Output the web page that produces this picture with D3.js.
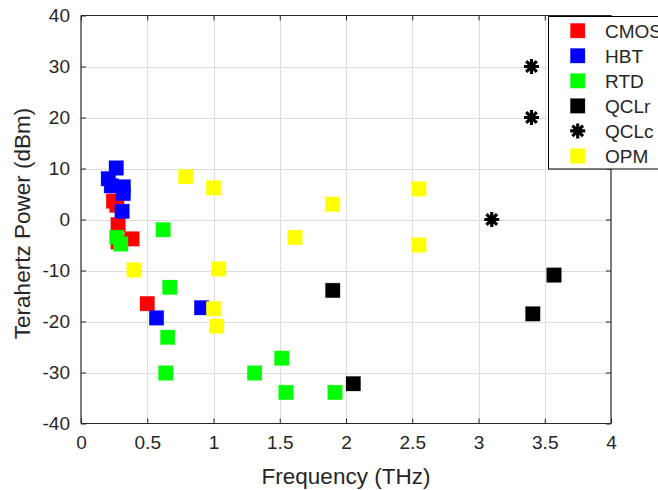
<!DOCTYPE html>
<html>
<head>
<meta charset="utf-8">
<script src="https://cdn.jsdelivr.net/npm/d3@7/dist/d3.min.js"></script>
<style>
  html, body { margin: 0; padding: 0; background: #fff; }
  svg { display: block; font-family: "Liberation Sans", Arial, Helvetica, sans-serif; }
</style>
</head>
<body>
<svg id="chart" width="658" height="490"></svg>
<script>
// ---- data (frequency THz, power dBm) ----
const seriesNames = ["CMOS", "HBT", "RTD", "QCLr", "QCLc", "OPM"];
const seriesColors = ["#ff0000", "#0000ff", "#00ff00", "#000000", "#000000", "#ffff00"];
const seriesShapes = ["square", "square", "square", "square", "asterisk", "square"];

const cmosFreq  = [0.245, 0.27, 0.28, 0.28, 0.385, 0.50];
const cmosPower = [3.6, 2.8, -1.0, -4.4, -3.8, -16.5];

const hbtFreq  = [0.266, 0.206, 0.229, 0.319, 0.319, 0.31, 0.57, 0.91];
const hbtPower = [10.1, 8.0, 6.6, 6.4, 5.1, 1.6, -19.3, -17.3];

const rtdFreq  = [0.27, 0.30, 0.62, 0.67, 0.654, 0.64, 1.31, 1.515, 1.547, 1.917];
const rtdPower = [-3.5, -4.8, -2.0, -13.3, -23.1, -30.1, -30.1, -27.2, -33.9, -33.9];

const qclrFreq  = [1.90, 2.055, 3.57, 3.41];
const qclrPower = [-13.9, -32.2, -10.9, -18.5];

const qclcFreq  = [3.40, 3.40, 3.10];
const qclcPower = [30, 20, 0];

const opmFreq  = [0.79, 1.0, 1.90, 1.615, 0.40, 1.04, 1.0, 1.024, 2.55, 2.55];
const opmPower = [8.4, 6.2, 3.0, -3.5, -9.9, -9.7, -17.5, -20.9, 6.0, -5.0];

const xTicks = [0, 0.5, 1, 1.5, 2, 2.5, 3, 3.5, 4];
const yTicks = [-40, -30, -20, -10, 0, 10, 20, 30, 40];
const xLabel = "Frequency (THz)";
const yLabel = "Terahertz Power (dBm)";

const allFreq  = [cmosFreq, hbtFreq, rtdFreq, qclrFreq, qclcFreq, opmFreq];
const allPower = [cmosPower, hbtPower, rtdPower, qclrPower, qclcPower, opmPower];

// ---- layout ----
const svg = d3.select("#chart");
const pLeft = 81, pRight = 611, pTop = 15.5, pBottom = 423.5;
const x = d3.scaleLinear().domain([0, 4]).range([pLeft, pRight]);
const y = d3.scaleLinear().domain([-40, 40]).range([pBottom, pTop]);
const axisColor = "#262626";
const gridColor = "#dcdcdc";
const mSize = 14.5;

// grid
const grid = svg.append("g");
grid.selectAll("line.gx").data(xTicks.slice(1, -1)).enter().append("line")
  .attr("x1", d => Math.round(x(d)) + 0.5).attr("x2", d => Math.round(x(d)) + 0.5)
  .attr("y1", pTop).attr("y2", pBottom)
  .attr("stroke", gridColor).attr("stroke-width", 1);
grid.selectAll("line.gy").data(yTicks.slice(1, -1)).enter().append("line")
  .attr("y1", d => Math.round(y(d)) + 0.5).attr("y2", d => Math.round(y(d)) + 0.5)
  .attr("x1", pLeft).attr("x2", pRight)
  .attr("stroke", gridColor).attr("stroke-width", 1);

const fmt = d => String(d);
const xAxisB = d3.axisBottom(x).tickValues(xTicks).tickSize(-5).tickPadding(12).tickFormat(fmt);
const xAxisT = d3.axisTop(x).tickValues(xTicks).tickSize(-5).tickFormat("");
const yAxisL = d3.axisLeft(y).tickValues(yTicks).tickSize(-5).tickPadding(11).tickFormat(fmt);
const yAxisR = d3.axisRight(y).tickValues(yTicks).tickSize(-5).tickFormat("");

function styleAxis(g) {
  g.select(".domain").attr("stroke", axisColor).attr("stroke-width", 1.2);
  g.selectAll(".tick line").attr("stroke", axisColor).attr("stroke-width", 1);
  g.selectAll(".tick text").attr("fill", axisColor)
    .style("font-size", "19px").style("font-family", '"Liberation Sans", Arial, sans-serif');
}

const markersLayer = svg.append("g");

svg.append("g").attr("transform", `translate(0,${pBottom})`).call(xAxisB).call(styleAxis)
  .call(g => g.select(".domain").attr("d", `M${pLeft},0H${pRight}`));
svg.append("g").attr("transform", `translate(0,${pTop})`).call(xAxisT).call(styleAxis)
  .call(g => g.select(".domain").attr("d", `M${pLeft},0H${pRight}`));
svg.append("g").attr("transform", `translate(${pLeft},0)`).call(yAxisL).call(styleAxis)
  .call(g => g.select(".domain").attr("d", `M0,${pTop}V${pBottom}`));
svg.append("g").attr("transform", `translate(${pRight},0)`).call(yAxisR).call(styleAxis)
  .call(g => g.select(".domain").attr("d", `M0,${pTop}V${pBottom}`));

function drawMarker(g, shape, color, cx, cy) {
  if (shape === "square") {
    g.append("rect")
      .attr("x", cx - mSize / 2).attr("y", cy - mSize / 2)
      .attr("width", mSize).attr("height", mSize)
      .attr("fill", color).attr("stroke", color).attr("stroke-width", 0.5).attr("stroke-opacity", 0.6);
  } else {
    const r = 7.5, d = r * Math.SQRT1_2;
    const p = `M${cx - r},${cy}L${cx + r},${cy}M${cx},${cy - r}L${cx},${cy + r}` +
              `M${cx - d},${cy - d}L${cx + d},${cy + d}M${cx - d},${cy + d}L${cx + d},${cy - d}`;
    g.append("path").attr("d", p).attr("stroke", color).attr("stroke-width", 3.2)
      .attr("stroke-linecap", "butt").attr("fill", "none");
    g.append("circle").attr("cx", cx).attr("cy", cy).attr("r", 3.2).attr("fill", color);
  }
}

seriesNames.forEach((name, i) => {
  const g = markersLayer.append("g");
  allFreq[i].forEach((f, j) => drawMarker(g, seriesShapes[i], seriesColors[i], x(f), y(allPower[i][j])));
});

svg.append("text").attr("x", (pLeft + pRight) / 2).attr("y", 483.5)
  .attr("text-anchor", "middle").attr("fill", axisColor)
  .style("font-size", "22.5px").text(xLabel);
svg.append("text").attr("transform", `translate(30,${(pTop + pBottom) / 2 + 4}) rotate(-90)`)
  .attr("text-anchor", "middle").attr("fill", axisColor)
  .style("font-size", "22.5px").text(yLabel);

const lg = svg.append("g");
lg.append("rect").attr("x", 548.5).attr("y", 16.5).attr("width", 130).attr("height", 152.5)
  .attr("fill", "#fff").attr("stroke", "#000").attr("stroke-width", 1);
const legY = d3.scalePoint().domain(seriesNames).range([30.7, 156]);
seriesNames.forEach((name, i) => {
  drawMarker(lg, seriesShapes[i], seriesColors[i], 577.7, legY(name));
  lg.append("text").attr("x", 605).attr("y", legY(name)).attr("dy", "0.36em")
    .attr("fill", axisColor).style("font-size", "19px").text(name);
});
</script>
</body>
</html>
